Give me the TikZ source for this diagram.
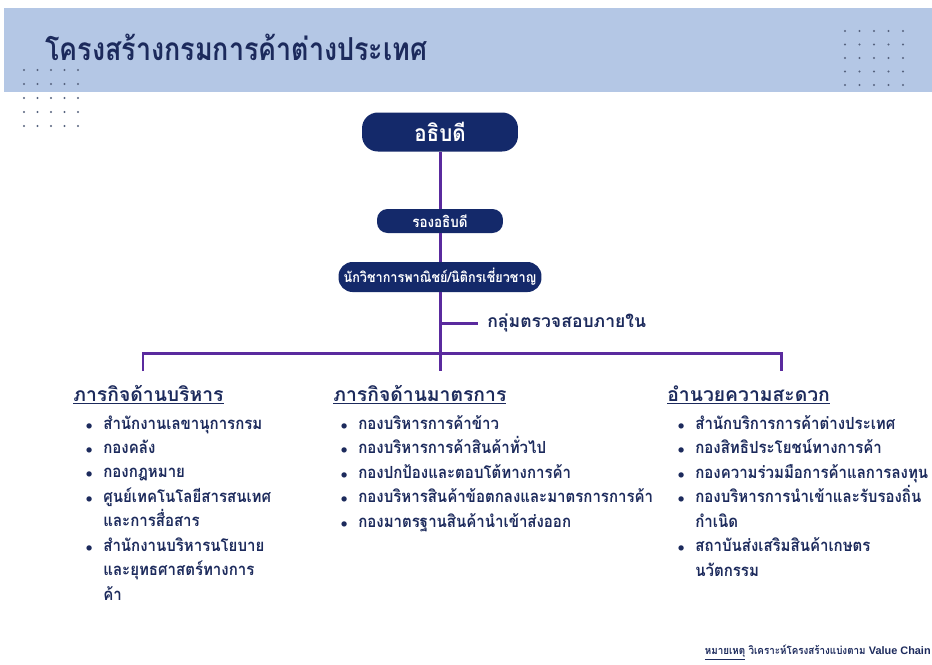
\documentclass[tikz,border=0pt]{standalone}
\usepackage{fontspec}
\setmainfont[Script=Thai]{Loma}
\newfontfamily\narrowfont[Script=Thai, FakeStretch=0.9]{Loma}
\newfontfamily\titlefont[Script=Thai, FakeStretch=0.85]{Loma}
\newfontfamily\latinfont{Liberation Sans}
\usepackage{tikz}
\usetikzlibrary{positioning, calc}

\definecolor{navy}{HTML}{14296A}
\definecolor{bannerblue}{HTML}{B4C7E5}
\definecolor{linkpurple}{HTML}{5A2A9E}
\definecolor{navytext}{HTML}{1C2A5C}
\definecolor{dotgray}{HTML}{56637E}

\newcommand{\bul}{\llap{{\fontsize{7}{7}\selectfont$\bullet$}\hspace{6pt}}}

\begin{document}
\begin{tikzpicture}[
    x=0.02cm, y=-0.02cm,
    every node/.style={inner sep=0pt, text=navytext},
    pill/.style={rectangle, fill=navy, text=white, align=center},
    link/.style={draw=linkpurple, line width=1.7pt},
    head/.style={anchor=base west, font=\fontsize{11}{14}\selectfont\bfseries},
    list/.style={anchor=base west, align=left,
                 font=\narrowfont\fontsize{9.5}{13.9}\selectfont\bfseries},
    dot/.style={fill=dotgray, draw=none}
  ]
  \useasboundingbox (0,0) rectangle (932,664);
  \fill[white] (0,0) rectangle (932,664);

  % banner
  \fill[bannerblue] (4,8) rectangle (932,92);
  \node[anchor=base west, font=\titlefont\fontsize{18}{22}\selectfont\bfseries] (title)
        at (45,60) {โครงสร้างกรมการค้าต่างประเทศ};
  \foreach \i in {0,...,4}
    \foreach \j in {0,...,4} {
      \fill[dot] (845+14.5*\i, 31+13.5*\j) circle (1.1);
      \fill[dot] (24+13.5*\i, 70+14*\j) circle (1.1);
    }

  % boxes
  \node[pill, minimum width=3.12cm, minimum height=0.78cm, rounded corners=9pt,
        font=\narrowfont\fontsize{13}{15}\selectfont\bfseries] (chief) at (440,132) {อธิบดี};
  \node[pill, minimum width=2.52cm, minimum height=0.48cm, rounded corners=6pt,
        font=\narrowfont\fontsize{8.5}{11}\selectfont\bfseries] (deputy) at (440,221) {รองอธิบดี};
  \node[pill, minimum width=4.06cm, minimum height=0.6cm, rounded corners=8pt,
        font=\narrowfont\fontsize{8}{10}\selectfont\bfseries] (expert) at (440,277)
        {นักวิชาการพาณิชย์/นิติกรเชี่ยวชาญ};

  \coordinate (audit) at (440,323);
  \node[anchor=west, font=\fontsize{10}{12}\selectfont\bfseries] (auditlbl)
        at (487,323) {กลุ่มตรวจสอบภายใน};
  \coordinate (auditend) at (478,323);

  \coordinate (hubL) at (143,353);
  \coordinate (hubR) at (781,353);
  \coordinate (dropL) at (143,371);
  \coordinate (dropM) at (440,371);
  \coordinate (dropR) at (781,371);

  % columns (base = last line)
  \node[head] (admin) at (73,401) {\underline{ภารกิจด้านบริหาร}};
  \node[list] (adminlist) at (103,600)
        {\bul สำนักงานเลขานุการกรม\\
         \bul กองคลัง\\
         \bul กองกฎหมาย\\
         \bul ศูนย์เทคโนโลยีสารสนเทศ\\
         และการสื่อสาร\\
         \bul สำนักงานบริหารนโยบาย\\
         และยุทธศาสตร์ทางการ\\
         ค้า};

  \node[head] (measure) at (333,401) {\underline{ภารกิจด้านมาตรการ}};
  \node[list] (measurelist) at (358,527)
        {\bul กองบริหารการค้าข้าว\\
         \bul กองบริหารการค้าสินค้าทั่วไป\\
         \bul กองปกป้องและตอบโต้ทางการค้า\\
         \bul กองบริหารสินค้าข้อตกลงและมาตรการการค้า\\
         \bul กองมาตรฐานสินค้านำเข้าส่งออก};

  \node[head] (facil) at (667,401) {\underline{อำนวยความสะดวก}};
  \node[list] (facillist) at (695,576)
        {\bul สำนักบริการการค้าต่างประเทศ\\
         \bul กองสิทธิประโยชน์ทางการค้า\\
         \bul กองความร่วมมือการค้าแลการลงทุน\\
         \bul กองบริหารการนำเข้าและรับรองถิ่น\\
         กำเนิด\\
         \bul สถาบันส่งเสริมสินค้าเกษตร\\
         นวัตกรรม};

  % note
  \node[anchor=base east, font=\narrowfont\fontsize{6.2}{9}\selectfont\bfseries] (note)
        at (931,654) {\underline{หมายเหตุ} วิเคราะห์โครงสร้างแบ่งตาม {\latinfont Value Chain}};

  % connectors
  \draw[link] (chief) -- (deputy);
  \draw[link] (deputy) -- (expert);
  \draw[link] (expert) -- (dropM);
  \draw[link] (audit) -- (auditend);
  \draw[link] (dropL) -- (hubL) -- (hubR) -- (dropR);
\end{tikzpicture}
\end{document}
